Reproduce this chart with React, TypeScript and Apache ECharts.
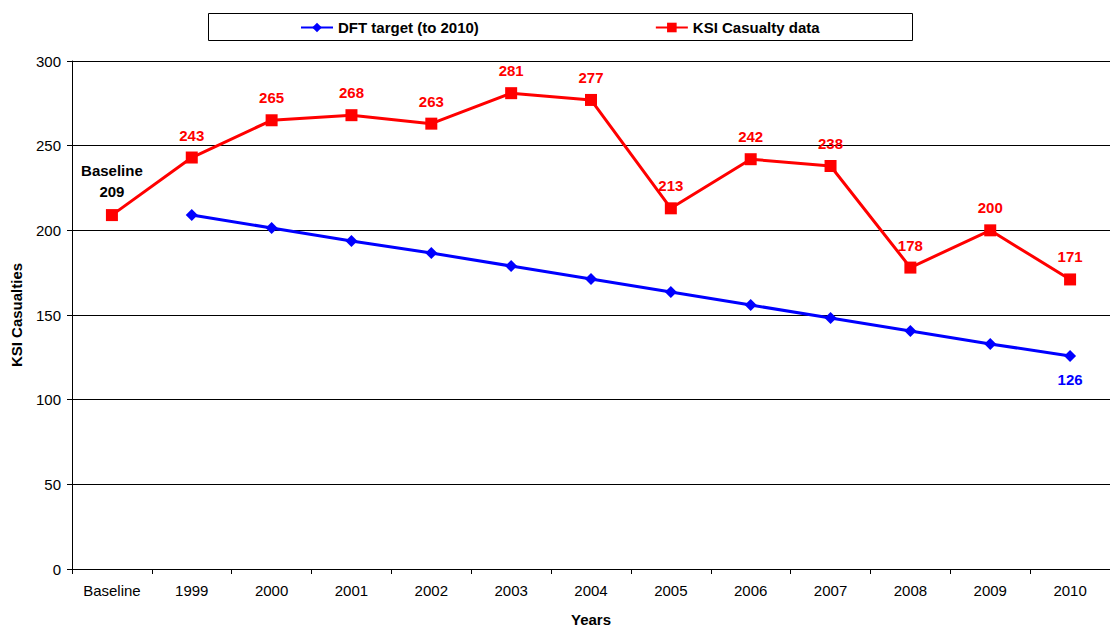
import React, { useEffect, useRef } from "react";
import * as echarts from "echarts";

const categories = ["Baseline", "1999", "2000", "2001", "2002", "2003", "2004", "2005", "2006", "2007", "2008", "2009", "2010"];
const targetValues: (number | null)[] = [null, 209, 201.4, 193.7, 186.6, 178.9, 171.3, 163.6, 155.9, 148.2, 140.6, 132.9, 125.8];
const ksiValues = [209, 243, 265, 268, 263, 281, 277, 213, 242, 238, 178, 200, 171];
const yTicks = { min: 0, max: 300, interval: 50 };

const FONT = "Liberation Sans, Arial, sans-serif";

export default function App() {
  const ref = useRef<HTMLDivElement>(null);
  useEffect(() => {
    if (!ref.current) return;
    const chart = echarts.init(ref.current, undefined, { renderer: "svg" });
    const lastIdx = targetValues.length - 1;
    chart.setOption({
      animation: false,
      textStyle: { fontFamily: FONT },
      graphic: [
        {
          type: "rect",
          left: 206,
          top: 11,
          shape: { x: 0, y: 0, width: 704, height: 27 },
          style: { fill: "none", stroke: "#000", lineWidth: 1 },
          silent: true,
        },
      ],
      legend: {
        left: 295,
        top: 15,
        itemWidth: 32,
        itemHeight: 12,
        itemGap: 176,
        textStyle: { fontFamily: FONT, fontSize: 15, fontWeight: "bold", color: "#000" },
        data: ["DFT target (to 2010)", "KSI Casualty data"],
      },
      grid: { left: 72, right: 0, top: 61, bottom: 59, containLabel: false, outerBoundsMode: "none" },
      xAxis: {
        type: "category",
        data: categories,
        boundaryGap: true,
        name: "Years",
        nameLocation: "middle",
        nameGap: 43,
        nameTextStyle: { fontFamily: FONT, fontSize: 15, fontWeight: "bold", color: "#000" },
        axisLine: { lineStyle: { color: "#000", width: 1 } },
        axisTick: { show: true, alignWithLabel: false, length: 5, lineStyle: { color: "#000" } },
        axisLabel: { fontFamily: FONT, fontSize: 15, color: "#000", margin: 14 },
        splitLine: { show: false },
      },
      yAxis: {
        type: "value",
        min: yTicks.min,
        max: yTicks.max,
        interval: yTicks.interval,
        name: "KSI Casualties",
        nameLocation: "middle",
        nameGap: 48,
        nameTextStyle: { fontFamily: FONT, fontSize: 15, fontWeight: "bold", color: "#000" },
        axisLine: { show: true, lineStyle: { color: "#000", width: 1 } },
        axisTick: { show: true, length: 5, lineStyle: { color: "#000" } },
        axisLabel: { fontFamily: FONT, fontSize: 15, color: "#000", margin: 11 },
        splitLine: { show: true, lineStyle: { color: "#000", width: 1 } },
      },
      series: [
        {
          name: "DFT target (to 2010)",
          type: "line",
          data: targetValues.map((v, i) =>
            i === lastIdx
              ? {
                  value: v,
                  label: {
                    show: true,
                    position: "bottom",
                    distance: 10,
                    formatter: (p: any) => String(Math.round(p.value)),
                    color: "#0000ff",
                    fontWeight: "bold",
                    fontSize: 15,
                    fontFamily: FONT,
                  },
                }
              : v
          ),
          symbol: "diamond",
          symbolSize: 12,
          itemStyle: { color: "#0000ff" },
          lineStyle: { color: "#0000ff", width: 3 },
          z: 2,
        },
        {
          name: "KSI Casualty data",
          type: "line",
          data: ksiValues.map((v, i) =>
            i === 0
              ? {
                  value: v,
                  label: {
                    show: true,
                    position: "top",
                    distance: 7,
                    formatter: (p: any) => "Baseline\n" + p.value,
                    color: "#000",
                    lineHeight: 21,
                  },
                }
              : v
          ),
          symbol: "rect",
          symbolSize: 12,
          itemStyle: { color: "#ff0000" },
          lineStyle: { color: "#ff0000", width: 3 },
          label: {
            show: true,
            position: "top",
            distance: 9,
            color: "#ff0000",
            fontWeight: "bold",
            fontSize: 15,
            fontFamily: FONT,
          },
          z: 3,
        },
      ],
    });
    return () => chart.dispose();
  }, []);
  return <div ref={ref} style={{ width: 1110, height: 628, position: "absolute", left: 0, top: 0 }} />;
}
